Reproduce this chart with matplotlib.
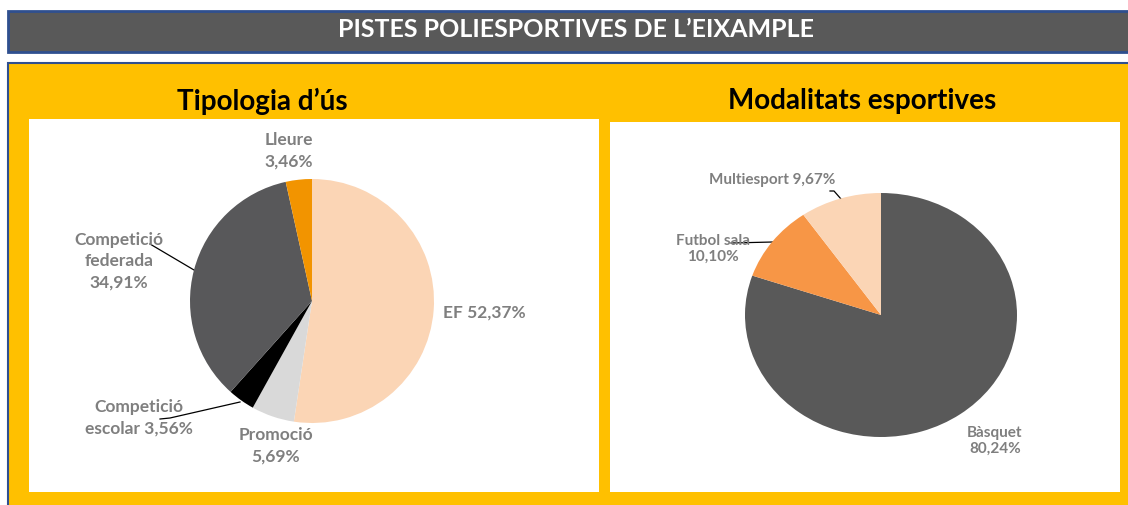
import matplotlib.pyplot as plt
from matplotlib.patches import Rectangle

W, H = 1128, 506

# data
tipus_labels = ['EF', 'Promoció', 'Competició\nescolar', 'Competició\nfederada', 'Lleure']
tipus_values = [52.37, 5.69, 3.56, 34.91, 3.46]
tipus_colors = ['#FBD5B5', '#D9D9D9', '#000000', '#58585A', '#F29400']

modal_labels = ['Bàsquet', 'Futbol sala', 'Multiesport']
modal_values = [80.24, 10.10, 9.67]
modal_colors = ['#595959', '#F79646', '#FBD5B5']

plt.rcParams['font.family'] = ['Lato', 'DejaVu Sans']
LABEL_GREY = '#7F7F7F'


def fmt(v):
    return f'{v:.2f}%'.replace('.', ',')


def px_box(x0, y0, x1, y1):
    return [x0 / W, 1 - y1 / H, (x1 - x0) / W, (y1 - y0) / H]


fig = plt.figure(figsize=(W / 100, H / 100), dpi=100)
fig.patch.set_facecolor('white')

# background in pixel coordinates
bg = fig.add_axes([0, 0, 1, 1])
bg.set_xlim(0, W)
bg.set_ylim(H, 0)
bg.axis('off')

# header bar
bg.add_patch(Rectangle((8, 12), W, 41, facecolor='#595959', edgecolor='#2F4F8F', linewidth=2))
bg.text(576, 29, 'PISTES POLIESPORTIVES DE L\u2019EIXAMPLE', color='white',
        fontsize=18, fontweight='bold', ha='center', va='center')

# yellow panel
bg.add_patch(Rectangle((8, 64), W, H, facecolor='#FFC000', edgecolor='#2F4F8F', linewidth=1.5))
bg.add_patch(Rectangle((29, 120), 570, 373, facecolor='white', edgecolor='none'))
bg.add_patch(Rectangle((610, 123), 510, 370, facecolor='white', edgecolor='none'))

bg.text(262, 101, 'Tipologia d\u2019ús', fontsize=20, fontweight='bold',
        ha='center', va='center', color='black')
bg.text(862, 101, 'Modalitats esportives', fontsize=20, fontweight='bold',
        ha='center', va='center', color='black')

# left pie
ax1 = fig.add_axes(px_box(190, 180, 434, 424))
ax1.pie(tipus_values, colors=tipus_colors, startangle=90, counterclock=False,
        radius=1, wedgeprops=dict(linewidth=0))
ax1.set_aspect('auto')
ax1.set_xlim(-1, 1)
ax1.set_ylim(-1, 1)
ax1.axis('off')

# right pie (stretched horizontally like the original)
ax2 = fig.add_axes(px_box(745, 194, 1017, 438))
ax2.pie(modal_values, colors=modal_colors, startangle=90, counterclock=False,
        radius=1, wedgeprops=dict(linewidth=0))
ax2.set_aspect('auto')
ax2.set_xlim(-1, 1)
ax2.set_ylim(-1, 1)
ax2.axis('off')

# left labels
lbl = dict(color=LABEL_GREY, fontweight='bold', fontsize=12.5, ha='center',
           va='center', linespacing=1.4)
bg.text(484, 313, f'{tipus_labels[0]} {fmt(tipus_values[0])}', **lbl)
bg.text(276, 446, f'{tipus_labels[1]}\n{fmt(tipus_values[1])}', **lbl)
bg.text(139, 418, f'{tipus_labels[2]} {fmt(tipus_values[2])}', **lbl)
bg.text(119, 261, f'{tipus_labels[3]}\n{fmt(tipus_values[3])}', **lbl)
bg.text(289, 151, f'{tipus_labels[4]}\n{fmt(tipus_values[4])}', **lbl)

bg.plot([150, 194], [245, 271], color='black', linewidth=0.9)
bg.plot([160, 170, 240], [420, 419, 403], color='black', linewidth=0.9)

# right labels
lbl2 = dict(color=LABEL_GREY, fontweight='bold', fontsize=11, ha='center',
            va='center', linespacing=1.15)
bg.text(995, 441, f'{modal_labels[0]}\n{fmt(modal_values[0])}', **lbl2)
bg.text(713, 249, f'{modal_labels[1]}\n{fmt(modal_values[1])}', **lbl2)
bg.text(772, 180, f'{modal_labels[2]} {fmt(modal_values[2])}', **lbl2)

bg.plot([731, 773], [244, 243], color='black', linewidth=0.9)
bg.plot([830, 834, 841], [192, 192, 200], color='black', linewidth=0.9)

fig.savefig('out.png', dpi=100)
